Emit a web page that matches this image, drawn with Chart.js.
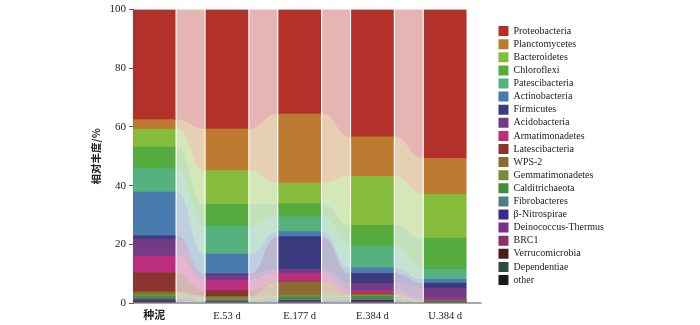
<!DOCTYPE html>
<html>
<head>
<meta charset="utf-8">
<script src="https://cdn.jsdelivr.net/npm/chart.js@4.4.1/dist/chart.umd.min.js"></script>
<style>
html, body { margin: 0; padding: 0; background: #fff; }
</style>
</head>
<body>
<canvas id="phylumChart" width="700" height="325"></canvas>
<script>
// samples along the x axis
const samples = ['种泥', 'E.53 d', 'E.177 d', 'E.384 d', 'U.384 d'];

// relative abundance (%) per phylum, same order as samples
const proteobacteria   = [37.5, 40.7, 35.6, 43.4, 50.7];
const planctomycetes   = [3.3, 14.1, 23.5, 13.4, 12.3];
const bacteroidetes    = [6.1, 11.6, 7.1, 16.7, 15.0];
const chloroflexi      = [7.3, 7.5, 4.4, 7.0, 10.5];
const patescibacteria  = [8.0, 9.4, 5.1, 7.5, 3.4];
const actinobacteria   = [14.9, 6.8, 1.7, 1.9, 1.3];
const firmicutes       = [1.1, 0.3, 11.1, 3.4, 1.7];
const acidobacteria    = [5.8, 1.8, 1.4, 2.5, 3.7];
const armatimonadetes  = [5.6, 3.6, 2.6, 0.9, 0.4];
const latescibacteria  = [6.6, 1.9, 0.3, 0.3, 0.2];
const wps2             = [0.8, 0.5, 4.5, 0.3, 0.1];
const gemmatimonadetes = [0.8, 0.6, 0.8, 0.6, 0.1];
const calditrichaeota  = [0.7, 0.5, 0.7, 0.8, 0.2];
const fibrobacteres    = [0.3, 0.2, 0.4, 0.4, 0.1];
const nitrospirae      = [0.4, 0.1, 0.3, 0.3, 0.1];
const deinococcus      = [0.3, 0.1, 0.2, 0.2, 0.0];
const brc1             = [0.1, 0.1, 0.1, 0.1, 0.0];
const verrucomicrobia  = [0.1, 0.0, 0.0, 0.1, 0.0];
const dependentiae     = [0.1, 0.0, 0.0, 0.0, 0.0];
const other            = [0.2, 0.2, 0.2, 0.2, 0.2];

// legend order (top of stack first)
const phyla = ['Proteobacteria', 'Planctomycetes', 'Bacteroidetes', 'Chloroflexi', 'Patescibacteria',
  'Actinobacteria', 'Firmicutes', 'Acidobacteria', 'Armatimonadetes', 'Latescibacteria', 'WPS-2',
  'Gemmatimonadetes', 'Calditrichaeota', 'Fibrobacteres', 'β-Nitrospirae', 'Deinococcus-Thermus',
  'BRC1', 'Verrucomicrobia', 'Dependentiae', 'other'];
const abundance = [proteobacteria, planctomycetes, bacteroidetes, chloroflexi, patescibacteria,
  actinobacteria, firmicutes, acidobacteria, armatimonadetes, latescibacteria, wps2,
  gemmatimonadetes, calditrichaeota, fibrobacteres, nitrospirae, deinococcus,
  brc1, verrucomicrobia, dependentiae, other];
const phylumColors = ['#B3312B', '#BC7B30', '#86BC3B', '#56AB3F', '#55B27F',
  '#4A7BAE', '#3C3A7F', '#733A86', '#BC2E7D', '#89342C', '#8C6A33',
  '#7A8B37', '#3F8D3F', '#4D7E84', '#3A2C86', '#7A2F8E',
  '#8B3162', '#4A1D1D', '#2E4A44', '#1A1A1A'];

const yTicks = [0, 20, 40, 60, 80, 100];
const xAxisEnd = 4.5;   // x axis line stops here, legend sits a bit further right

function fade(hex, a) {
  const n = parseInt(hex.slice(1), 16);
  return 'rgba(' + (n >> 16) + ',' + ((n >> 8) & 255) + ',' + (n & 255) + ',' + a + ')';
}

// light bands joining the same phylum between neighbouring bars
const flowPlugin = {
  id: 'flows',
  beforeDatasetsDraw(chart) {
    const ctx = chart.ctx;
    ctx.save();
    chart.data.datasets.forEach((ds, k) => {
      const bars = chart.getDatasetMeta(k).data;
      for (let i = 0; i < bars.length - 1; i++) {
        const a = bars[i], b = bars[i + 1];
        const x0 = a.x + a.width / 2 + 1.5;
        const x1 = b.x - b.width / 2 - 1.5;
        const xm = (x0 + x1) / 2;
        ctx.beginPath();
        ctx.moveTo(x0, a.y);
        ctx.bezierCurveTo(xm, a.y, xm, b.y, x1, b.y);
        ctx.lineTo(x1, b.base);
        ctx.bezierCurveTo(xm, b.base, xm, a.base, x0, a.base);
        ctx.closePath();
        ctx.fillStyle = fade(ds.backgroundColor, 0.36);
        ctx.fill();
      }
    });
    ctx.restore();
  },
  afterDatasetsDraw(chart) {
    const ctx = chart.ctx;
    const xs = chart.scales.x;
    ctx.save();
    ctx.strokeStyle = '#8a8a8a';
    ctx.lineWidth = 1.5;
    ctx.beginPath();
    ctx.moveTo(xs.left, xs.top);
    ctx.lineTo(xs.getPixelForValue(xAxisEnd), xs.top);
    ctx.stroke();
    ctx.restore();
  }
};

// bottom of stack first, so Proteobacteria ends on top
const datasets = phyla.map((name, k) => ({
  label: name,
  data: abundance[k].map((v, i) => ({ x: i, y: v })),
  backgroundColor: phylumColors[k],
  borderWidth: 0,
  barThickness: 42
})).reverse();

const serif = '"Liberation Serif", "Noto Sans CJK SC", serif';

new Chart(document.getElementById('phylumChart'), {
  type: 'bar',
  data: { datasets: datasets },
  plugins: [flowPlugin],
  options: {
    responsive: false,
    animation: false,
    layout: { padding: { left: 86, right: 86, top: 9, bottom: 1 } },
    plugins: {
      tooltip: { enabled: false },
      legend: {
        position: 'right',
        align: 'start',
        reverse: true,
        title: { display: true, text: '', font: { size: 10 }, padding: { top: 2, bottom: 0 } },
        labels: {
          boxWidth: 10,
          boxHeight: 10,
          padding: 3.1,
          color: '#222',
          font: { family: serif, size: 10 }
        }
      }
    },
    scales: {
      x: {
        type: 'linear',
        stacked: true,
        offset: false,
        min: -0.29,
        max: 4.69,
        grid: { display: false, drawTicks: false },
        border: { display: false },
        afterBuildTicks: axis => { axis.ticks = samples.map((s, i) => ({ value: i })); },
        afterFit: axis => { axis.height = 21; },
        ticks: {
          padding: 7,
          autoSkip: false,
          maxRotation: 0,
          color: '#222',
          font: c => ({ family: serif, size: c.index === 0 ? 11 : 10.5, weight: c.index === 0 ? 'bold' : 'normal' }),
          callback: v => samples[v]
        }
      },
      y: {
        stacked: true,
        min: 0,
        max: 100,
        afterBuildTicks: axis => { axis.ticks = yTicks.map(v => ({ value: v })); },
        grid: { drawOnChartArea: false, tickLength: 4, color: '#555' },
        border: { color: '#555', width: 1 },
        ticks: { padding: 3, color: '#222', font: { family: serif, size: 11 } },
        title: {
          display: true,
          text: '相对丰度/%',
          color: '#222',
          font: { family: '"Noto Sans CJK SC", sans-serif', size: 10.5, weight: 'bold' }
        }
      }
    }
  }
});
</script>
</body>
</html>
